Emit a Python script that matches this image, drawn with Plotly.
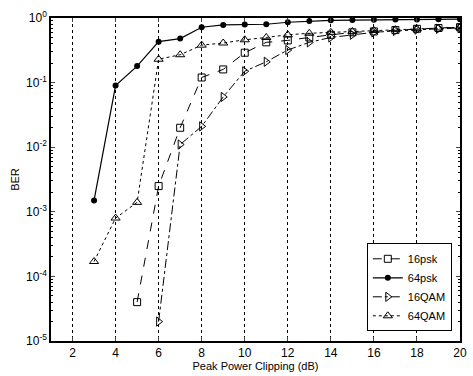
import plotly.graph_objects as go

# Data
x_16psk = [5, 6, 7, 8, 9, 10, 11, 12, 13, 14, 15, 16, 17, 18, 19, 20]
y_16psk = [4e-5, 2.5e-3, 0.02, 0.12, 0.16, 0.29, 0.42, 0.45, 0.5, 0.55, 0.6, 0.62, 0.65, 0.68, 0.7, 0.72]

x_64psk = [3, 4, 5, 6, 7, 8, 9, 10, 11, 12, 13, 14, 15, 16, 17, 18, 19, 20]
y_64psk = [1.5e-3, 0.09, 0.18, 0.43, 0.48, 0.72, 0.78, 0.79, 0.80, 0.86, 0.9, 0.92, 0.93, 0.94, 0.95, 0.95, 0.96, 0.96]

x_16qam = [6, 7, 8, 9, 10, 11, 12, 13, 14, 15, 16, 17, 18, 19, 20]
y_16qam = [2e-5, 0.011, 0.021, 0.06, 0.15, 0.21, 0.32, 0.42, 0.5, 0.55, 0.6, 0.63, 0.66, 0.68, 0.7]

x_64qam = [3, 4, 5, 6, 7, 8, 9, 10, 11, 12, 13, 14, 15, 16, 17, 18, 19, 20]
y_64qam = [1.7e-4, 8e-4, 1.4e-3, 0.23, 0.27, 0.38, 0.41, 0.46, 0.5, 0.55, 0.58, 0.6, 0.62, 0.64, 0.66, 0.68, 0.7, 0.72]

x_ticks = [2, 4, 6, 8, 10, 12, 14, 16, 18, 20]
y_ticks = [1e-5, 1e-4, 1e-3, 1e-2, 1e-1, 1]
y_ticktext = ["10<sup>-5</sup>", "10<sup>-4</sup>", "10<sup>-3</sup>",
              "10<sup>-2</sup>", "10<sup>-1</sup>", "10<sup>0</sup>"]

minor_vals = [m * 10 ** k for k in range(-5, 0) for m in range(2, 10)]

fig = go.Figure()

fig.add_trace(go.Scatter(x=x_16psk, y=y_16psk, name="16psk", mode="lines+markers",
                         line=dict(color="black", width=1, dash="dash"),
                         marker=dict(symbol="square-open", size=7, color="black", line=dict(width=1))))
fig.add_trace(go.Scatter(x=x_64psk, y=y_64psk, name="64psk", mode="lines+markers",
                         line=dict(color="black", width=1.2),
                         marker=dict(symbol="circle", size=6, color="black")))
fig.add_trace(go.Scatter(x=x_16qam, y=y_16qam, name="16QAM", mode="lines+markers",
                         line=dict(color="black", width=1, dash="dashdot"),
                         marker=dict(symbol="triangle-right-open", size=8, color="black", line=dict(width=1))))
fig.add_trace(go.Scatter(x=x_64qam, y=y_64qam, name="64QAM", mode="lines+markers",
                         line=dict(color="black", width=1, dash="dot"),
                         marker=dict(symbol="triangle-up-open", size=8, color="black", line=dict(width=1))))

fam = "Liberation Sans, Arial, sans-serif"
font = dict(family=fam, size=11, color="black")

fig.update_layout(
    width=473, height=376,
    margin=dict(l=51, r=6, t=18, b=35),
    paper_bgcolor="white", plot_bgcolor="white",
    font=font,
    showlegend=True,
    legend=dict(x=0.98, y=0.03, xanchor="right", yanchor="bottom",
                bgcolor="white", bordercolor="black", borderwidth=1,
                font=dict(family=fam, size=11),
                tracegroupgap=0, itemwidth=30),
    xaxis=dict(range=[1, 20], tickvals=x_ticks, ticks="inside", ticklen=4,
               showgrid=True, gridcolor="black", griddash="3px,3px", gridwidth=1,
               showline=True, linecolor="black", linewidth=1.5, mirror="ticks",
               zeroline=False, tickfont=dict(family=fam, size=12),
               title=dict(text="Peak Power Clipping (dB)", standoff=2,
                          font=dict(family=fam, size=11))),
    yaxis=dict(type="log", range=[-5, 0], tickvals=y_ticks, ticktext=y_ticktext,
               ticks="inside", ticklen=4, showgrid=False,
               showline=True, linecolor="black", linewidth=1.5, mirror="ticks",
               zeroline=False, tickfont=dict(family=fam, size=12),
               minor=dict(tickvals=minor_vals, ticks="inside", ticklen=2, tickcolor="black", showgrid=False),
               title=dict(text="BER", standoff=4,
                          font=dict(family=fam, size=11))),
)

fig.write_html("out.html")
